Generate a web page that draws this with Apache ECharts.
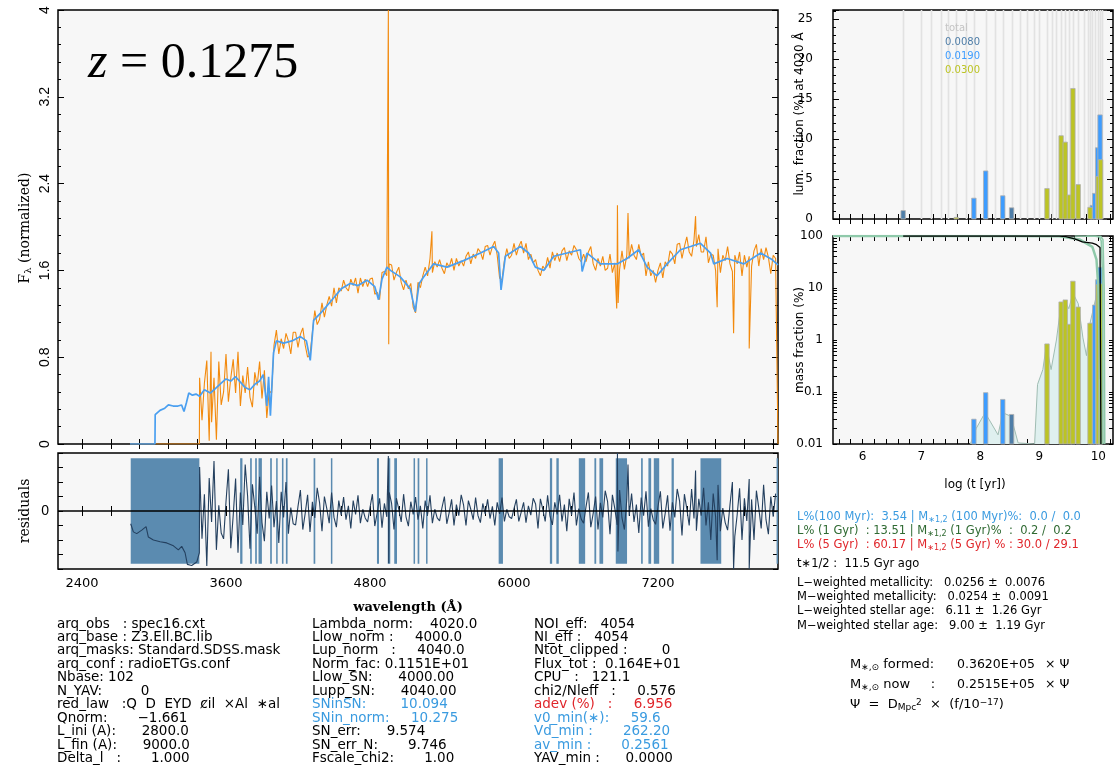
<!DOCTYPE html>
<html>
<head>
<meta charset="utf-8">
<title>spectral fit z = 0.1275</title>
<script src="https://cdn.jsdelivr.net/npm/echarts@6/dist/echarts.min.js"></script>
<style>
  html, body { margin: 0; padding: 0; background: #fff; }
  #chart { width: 1114px; height: 771px; }
</style>
</head>
<body>
<div id="chart"></div>
<script>
// ---------- spectrum panel (wavelength in Å, flux normalised) ----------
const modelSpec = [
  [2800,0],[3008,0],[3010,0.27],[3050,0.31],[3090,0.33],[3120,0.36],[3160,0.35],[3200,0.35],[3230,0.36],
  [3250,0.30],[3270,0.38],[3290,0.47],[3320,0.45],[3350,0.46],[3380,0.44],[3420,0.50],[3470,0.47],
  [3520,0.52],[3560,0.56],[3600,0.60],[3640,0.58],[3680,0.62],[3720,0.57],[3760,0.52],[3800,0.50],
  [3840,0.55],[3880,0.58],[3910,0.64],[3940,0.35],[3955,0.62],[3970,0.26],[3996,0.84],[4020,0.95],
  [4080,0.93],[4150,0.95],[4220,0.99],[4270,0.95],[4302,0.77],[4330,1.14],[4400,1.22],[4500,1.35],
  [4560,1.43],[4635,1.48],[4700,1.46],[4775,1.51],[4840,1.45],[4871,1.33],[4900,1.52],[4941,1.63],
  [4970,1.60],[5052,1.54],[5136,1.43],[5177,1.22],[5210,1.48],[5247,1.54],[5330,1.66],[5442,1.63],
  [5580,1.69],[5720,1.76],[5831,1.82],[5872,1.76],[5892,1.42],[5928,1.73],[6053,1.82],[6122,1.76],
  [6178,1.63],[6248,1.60],[6331,1.73],[6443,1.76],[6554,1.79],[6568,1.59],[6609,1.76],[6720,1.66],
  [6859,1.66],[6942,1.71],[7039,1.79],[7109,1.63],[7192,1.55],[7276,1.66],[7387,1.79],[7471,1.82],
  [7554,1.85],[7638,1.76],[7665,1.66],[7777,1.71],[7916,1.66],[8055,1.76],[8150,1.70],[8200,1.65]
];

// observed flux, one value every 20 Å from 3380 Å (10 per row = 200 Å)
const obsStart = 3380;
const obsStep = 20;
const obsFlux = [
  0.61,0.22,0.56,0.77,0.03,0.20,0.61,0.04,0.76,0.36,
  0.48,0.83,0.39,0.61,0.78,0.47,0.85,0.35,0.63,0.47,
  0.71,0.43,0.34,0.66,0.54,0.76,0.42,0.68,0.24,0.49,
  0.47,0.91,1.05,0.83,0.97,0.88,1.02,0.95,0.83,1.03,
  1.03,0.89,1.01,1.07,0.91,0.80,0.82,1.03,1.23,1.10,
  1.15,1.30,1.17,1.28,1.36,1.27,1.44,1.30,1.44,1.41,
  1.51,1.44,1.41,1.52,1.46,1.53,1.39,1.53,1.45,1.52,
  1.45,1.52,1.53,1.38,1.40,1.33,1.58,1.59,1.55,1.66,
  1.65,1.51,1.58,1.63,1.49,1.42,1.51,1.43,1.48,1.26,
  1.21,1.49,1.44,1.55,1.63,1.55,1.71,1.58,1.68,1.63,
  1.70,1.62,1.57,1.67,1.63,1.71,1.60,1.71,1.64,1.69,
  1.64,1.73,1.77,1.66,1.75,1.71,1.80,1.77,1.70,1.82,
  1.83,1.74,1.82,1.87,1.74,1.53,1.51,1.69,1.80,1.71,
  1.74,1.85,1.74,1.82,1.87,1.76,1.85,1.70,1.75,1.67,
  1.70,1.60,1.55,1.64,1.61,1.72,1.62,1.77,1.69,1.76,
  1.68,1.78,1.81,1.69,1.78,1.74,1.83,1.79,1.71,1.68,
  1.75,1.68,1.77,1.82,1.66,1.60,1.71,1.64,1.73,1.60,
  1.62,1.75,1.58,1.67,1.73,1.61,1.78,1.61,1.74,1.71,
  1.84,1.74,1.70,1.84,1.73,1.76,1.55,1.68,1.55,1.60,
  1.49,1.60,1.67,1.53,1.68,1.64,1.78,1.75,1.66,1.84,
  1.85,1.71,1.82,1.91,1.77,1.73,1.88,1.82,1.93,1.77,
  1.77,1.91,1.67,1.75,1.74,1.60,1.80,1.58,1.74,1.69,
  1.82,1.66,1.59,1.74,1.66,1.77,1.55,1.74,1.63,1.73,
  1.64,1.78,1.84,1.64,1.80,1.70,1.81,1.72,1.57,1.74,
  1.71
];
const obsExtra = [
  [2800,0],[3378,0],[3475,0.85],[4950,1.55],[4953,4.0],[4956,0.92],[4959,1.6],
  [5316,1.96],[6856,1.25],[6862,2.2],[6868,1.3],[6950,2.13],[7513,2.1],[7693,1.26],
  [7830,1.02],[7960,0.88],[8200,0]
];

// residuals, masked start then same 20 Å sampling
const resMasked = [
  [2806,-0.22],[2828,-0.36],[2856,-0.39],[2898,-0.33],[2934,-0.27],[2953,-0.45],[2995,-0.50],
  [3051,-0.53],[3106,-0.55],[3162,-0.60],[3203,-0.67],[3231,-0.61],[3259,-0.72],[3278,-0.92],
  [3314,-0.94],[3356,-0.88],[3378,-0.72]
];
const resVals = [
  0.76,-0.48,0.29,-0.95,0.57,-0.19,0.86,-0.67,0.10,-0.38,
  -0.48,0.16,0.72,-0.64,-0.08,0.56,-0.72,0.32,-0.24,0.80,
  0.26,-0.65,0.46,0.07,-0.39,0.59,-0.20,-0.52,0.33,-0.13,
  0.44,-0.28,0.17,-0.55,0.33,-0.11,0.50,-0.39,0.06,-0.22,
  -0.24,0.08,0.36,-0.32,-0.04,0.28,-0.36,0.16,-0.12,0.40,
  0.14,-0.35,0.25,0.04,-0.21,0.32,-0.11,-0.28,0.18,-0.07,
  0.24,-0.15,0.09,-0.30,0.18,-0.06,0.27,-0.21,0.03,-0.12,
  -0.19,0.06,0.29,-0.26,-0.03,0.22,-0.29,0.13,-0.10,0.32,
  0.13,-0.32,0.22,0.03,-0.19,0.29,-0.10,-0.26,0.16,-0.06,
  0.24,-0.15,0.09,-0.30,0.18,-0.06,0.27,-0.21,0.03,-0.12,
  -0.17,0.06,0.25,-0.22,-0.03,0.20,-0.25,0.11,-0.08,0.28,
  0.10,-0.25,0.18,0.03,-0.15,0.23,-0.08,-0.20,0.13,-0.05,
  0.20,-0.13,0.08,-0.25,0.15,-0.05,0.23,-0.18,0.03,-0.10,
  -0.13,0.04,0.20,-0.18,-0.02,0.15,-0.20,0.09,-0.07,0.22,
  0.12,-0.30,0.21,0.03,-0.18,0.27,-0.09,-0.24,0.15,-0.06,
  0.28,-0.18,0.11,-0.35,0.21,-0.07,0.32,-0.25,0.04,-0.14,
  -0.21,0.07,0.32,-0.28,-0.04,0.25,-0.32,0.14,-0.11,0.35,
  0.16,-0.40,0.28,0.04,-0.24,0.36,-0.12,-0.32,0.20,-0.08,
  0.30,-0.19,0.11,-0.38,0.23,-0.08,0.34,-0.27,0.04,-0.15,
  -0.23,0.08,0.34,-0.30,-0.04,0.27,-0.34,0.15,-0.11,0.38,
  0.17,-0.42,0.29,0.04,-0.25,0.38,-0.13,-0.34,0.21,-0.08,
  0.40,-0.25,0.15,-0.50,0.30,-0.10,0.45,-0.35,0.05,-0.20,
  -0.33,0.11,0.50,-0.44,-0.06,0.39,-0.50,0.22,-0.17,0.55,
  0.20,-0.50,0.35,0.05,-0.30,0.45,-0.15,-0.40,0.25,-0.10,
  0.30
];
const resExtra = [
  [4953,0.95],[4956,-0.9],[6862,1.0],[6866,-0.7],[6950,0.8],[7513,0.7],[7693,-0.85],
  [7830,-1.0],[7960,-1.0]
];

// masked wavelength windows [from, to]
const masks = [
  [2806,3378],[3718,3737],[3801,3815],[3843,3857],[3871,3899],[3968,3982],[4018,4029],
  [4066,4079],[4099,4113],[4330,4344],[4474,4483],[4858,4875],[4948,4969],[5002,5025],
  [5163,5172],[5197,5211],[5267,5275],[5872,5908],[6299,6318],[6353,6373],[6540,6593],
  [6670,6685],[6712,6743],[6848,6942],[7059,7073],[7120,7143],[7165,7210],[7313,7332],
  [7554,7727],[8188,8200]
];

const waveTicks = [2400,2640,2880,3120,3360,3600,3840,4080,4320,4560,4800,5040,5280,5520,
  5760,6000,6240,6480,6720,6960,7200,7440,7680,7920,8160];
const waveLabels = [2400,3600,4800,6000,7200];

// ---------- population panels (log age) ----------
const baseAges = [6.69,6.99,7.17,7.34,7.45,7.59,7.76,7.89,8.09,8.24,8.38,8.53,8.68,8.79,8.91,
  9.0,9.13,9.22,9.29,9.37,9.44,9.51,9.57,9.66,9.75,9.82,9.86,9.90,9.94,9.99,10.03,10.07];

const lumZ008 = [[6.69,1.05],[8.53,1.4]];
const lumZ019 = [[7.89,2.6],[8.09,6.0],[8.38,2.9],[9.90,1.7],[9.94,3.2],[9.99,8.9],[10.03,13.0]];
const lumZ030 = [[7.59,0.2],[9.13,3.8],[9.37,10.4],[9.44,9.6],[9.51,3.0],[9.57,16.3],[9.66,4.3],
  [9.86,1.45],[10.0,5.3],[10.04,7.4]];

const massZ008 = [[8.53,0.037]];
const massZ019 = [[7.89,0.030],[8.09,0.097],[8.38,0.072],[9.90,2.1],[9.94,4.7],[9.99,14.4],[10.03,25]];
const massZ030 = [[9.13,0.84],[9.37,5.4],[9.44,5.9],[9.51,2.0],[9.57,13.5],[9.66,4.3],[9.86,2.1],
  [10.0,11.6],[10.04,12]];

const massSmooth = [[7.83,0.01],[7.93,0.02],[8.08,0.04],[8.30,0.015],[8.38,0.04],[8.52,0.034],
  [8.64,0.0105],[8.92,0.01],[8.97,0.14],[9.06,0.27],[9.12,0.8],[9.2,0.27],[9.29,1.0],[9.37,5.0],
  [9.44,5.5],[9.5,4.0],[9.57,8.0],[9.66,5.0],[9.74,1.1],[9.8,0.5],[9.86,2.1],[9.96,6.5],
  [10.0,15],[10.04,22],[10.07,0.01]];

const cumLight = [[5.5,100],[8.5,99.5],[9.34,99],[9.68,86],[9.9,62],[9.97,35],[10.0,10.6],[10.03,0.57],[10.04,0.01]];
const cumGreenB = [[9.6,100],[9.95,99],[10.02,96],[10.05,80],[10.07,20],[10.08,0.01]];
const cumGreenC = [[9.8,100],[10.04,99],[10.08,85],[10.1,10],[10.11,0.01]];
const cumMass = [[6.69,100],[9.34,100],[9.45,97],[9.6,88],[9.73,77],[9.9,73],[9.97,68],[10.03,60],[10.045,0.01]];

const ageTicks = [5.6,5.8,6.0,6.2,6.4,6.6,6.8,7.0,7.2,7.4,7.6,7.8,8.0,8.2,8.4,8.6,8.8,9.0,9.2,9.4,9.6,9.8,10.0,10.2];
const ageLabels = [6,7,8,9,10];
const logTicks = [0.01,0.02,0.03,0.04,0.05,0.06,0.07,0.08,0.09,0.1,0.2,0.3,0.4,0.5,0.6,0.7,0.8,0.9,
  1,2,3,4,5,6,7,8,9,10,20,30,40,50,60,70,80,90,100];
const logLabels = [0.01,0.1,1,10,100];

// ---------- text blocks ----------
const blockLeft = [
  'arq_obs   : spec16.cxt', 'arq_base : Z3.Ell.BC.lib', 'arq_masks: Standard.SDSS.mask',
  'arq_conf : radioETGs.conf', 'Nbase: 102', 'N_YAV:         0', 'red_law   :Q  D  EYD  ȼil  ×Al  ∗al',
  'Qnorm:       −1.661', 'L_ini (A):      2800.0', 'L_fin (A):      9000.0', 'Delta_l   :       1.000'
];
const blockMid = [
  ['Lambda_norm:    4020.0', '#000'], ['Llow_norm :     4000.0', '#000'], ['Lup_norm   :     4040.0', '#000'],
  ['Norm_fac: 0.1151E+01', '#000'], ['Llow_SN:      4000.00', '#000'], ['Lupp_SN:      4040.00', '#000'],
  ['SNinSN:        10.094', '#3a9be0'], ['SNin_norm:     10.275', '#3a9be0'], ['SN_err:      9.574', '#000'],
  ['SN_err_N:       9.746', '#000'], ['Fscale_chi2:       1.00', '#000']
];
const blockRight = [
  ['NOI_eff:   4054', '#000'], ['NI_eff :   4054', '#000'], ['Ntot_clipped :        0', '#000'],
  ['Flux_tot :  0.164E+01', '#000'], ['CPU   :   121.1', '#000'], ['chi2/Nleff   :     0.576', '#000'],
  ['adev (%)   :     6.956', '#e0262b'], ['v0_min(∗):     59.6', '#3a9be0'], ['Vd_min :       262.20', '#3a9be0'],
  ['av_min :       0.2561', '#3a9be0'], ['YAV_min :      0.0000', '#000']
];
const infoLines = [
  [517, '#3a9be0', '{n|L%(100 Myr):  3.54 | M}{s|∗1,2}{n| (100 Myr)%:  0.0 /  0.0}'],
  [531, '#2f6a32', '{n|L% (1 Gyr)  : 13.51 | M}{s|∗1,2}{n| (1 Gyr)%  :  0.2 /  0.2}'],
  [545, '#e0262b', '{n|L% (5 Gyr)  : 60.17 | M}{s|∗1,2}{n| (5 Gyr) % : 30.0 / 29.1}'],
  [564, '#000', '{n|t∗1/2 :  11.5 Gyr ago}'],
  [583, '#000', '{n|L−weighted metallicity:   0.0256 ±  0.0076}'],
  [597, '#000', '{n|M−weighted metallicity:   0.0254 ±  0.0091}'],
  [611, '#000', '{n|L−weighted stellar age:   6.11 ±  1.26 Gyr}'],
  [626, '#000', '{n|M−weighted stellar age:   9.00 ±  1.19 Gyr}']
];
// stellar mass block: [y, label (rich), value, factor]
const massLines = [
  [665, '{n|M}{s|∗,⊙}{n| formed:}', '0.3620E+05', '× Ψ'],
  [685, '{n|M}{s|∗,⊙}{n| now     :}', '0.2515E+05', '× Ψ']
];
const psiLine = '{n|Ψ  =  D}{s|Mpc}{p|2}{n|  ×  (f/10}{p|−17}{n|)}';
const zLegend = [['total', '#c4c4c4'], ['0.0080', '#4f7ea8'], ['0.0190', '#3d9cff'], ['0.0300', '#bcc424']];

// ---------- build ----------
const obsAll = obsFlux.map((f, i) => [obsStart + i * obsStep, f]).concat(obsExtra)
  .sort((a, b) => a[0] - b[0]);
const resAll = resMasked.concat(resVals.map((r, i) => [obsStart + i * obsStep, r]), resExtra)
  .sort((a, b) => a[0] - b[0]);

const SANS = 'DejaVu Sans';

function xAx(grid, min, max, pos, ticks, labels, size, margin) {
  return {
    type: 'value', gridIndex: grid, min: min, max: max, position: pos,
    axisLine: { show: false }, splitLine: { show: false },
    axisTick: { show: true, inside: true, length: 5, customValues: ticks, lineStyle: { color: '#000' } },
    axisLabel: labels
      ? { show: true, customValues: labels, color: '#000', fontFamily: SANS, fontSize: size, margin: margin,
          formatter: v => String(v) }
      : { show: false }
  };
}

function mirrorY(base) {
  const c = Object.assign({}, base);
  c.position = 'right';
  c.axisLabel = { show: false };
  return c;
}

const yMain = {
  type: 'value', gridIndex: 0, min: 0, max: 4, interval: 0.8, position: 'left',
  axisLine: { show: false }, splitLine: { show: false },
  axisTick: { show: true, inside: true, length: 6, lineStyle: { color: '#000' } },
  minorTick: { show: true, splitNumber: 5, length: 3, lineStyle: { color: '#000' } },
  axisLabel: { rotate: 90, margin: 6, color: '#000', fontFamily: 'Liberation Sans', fontSize: 14,
    formatter: v => String(+v.toFixed(1)) }
};
const yRes = {
  type: 'value', gridIndex: 1, min: -1, max: 1, interval: 0.25, position: 'left',
  axisLine: { show: false }, splitLine: { show: false },
  axisTick: { show: true, inside: true, length: 5, lineStyle: { color: '#000' } },
  axisLabel: { customValues: [0], margin: 9, color: '#000', fontFamily: 'Liberation Sans', fontSize: 14 }
};
const yLum = {
  type: 'value', gridIndex: 2, min: 0, max: 26.1, interval: 5, position: 'left',
  axisLine: { show: false }, splitLine: { show: false },
  axisTick: { show: true, inside: true, length: 6, lineStyle: { color: '#000' } },
  minorTick: { show: true, splitNumber: 5, length: 3, lineStyle: { color: '#000' } },
  axisLabel: { margin: 20, color: '#000', fontFamily: SANS, fontSize: 12,
    formatter: v => (v % 5 === 0 ? String(v) : '') }
};
const yMass = {
  type: 'log', logBase: 10, gridIndex: 3, min: 0.01, max: 100, position: 'left',
  axisLine: { show: false }, splitLine: { show: false },
  axisTick: { show: true, inside: true, length: 4, customValues: logTicks, lineStyle: { color: '#000' } },
  axisLabel: { customValues: logLabels, margin: 10, color: '#000', fontFamily: SANS, fontSize: 12,
    formatter: v => String(+(+v).toPrecision(3)) }
};

const gridBox = { show: true, backgroundColor: '#f7f7f7', borderColor: '#000', borderWidth: 1.5 };

function barSeries(data, color, xi, yi, base) {
  return {
    type: 'custom', xAxisIndex: xi, yAxisIndex: yi, data: data, z: 3,
    renderItem: function (params, api) {
      const top = api.coord([api.value(0), api.value(1)]);
      const bot = api.coord([api.value(0), base]);
      return {
        type: 'rect',
        shape: { x: top[0] - 2.2, y: top[1], width: 4.4, height: bot[1] - top[1] },
        style: { fill: color, stroke: '#b0b0b0', lineWidth: 0.8 }
      };
    }
  };
}

function lineSeries(data, color, width, xi, yi, z) {
  return {
    type: 'line', xAxisIndex: xi, yAxisIndex: yi, data: data, showSymbol: false, symbol: 'none',
    lineStyle: { color: color, width: width }, z: z || 2, silent: true
  };
}

const series = [
  lineSeries(obsAll, '#f28a0e', 1.1, 0, 0, 2),
  lineSeries(modelSpec, '#4a9ff0', 1.7, 0, 0, 3),
  {
    type: 'custom', xAxisIndex: 2, yAxisIndex: 2, data: masks, z: 1,
    renderItem: function (params, api) {
      const a = api.coord([api.value(0), 0.91]);
      const b = api.coord([api.value(1), -0.91]);
      return { type: 'rect', shape: { x: a[0], y: a[1], width: Math.max(b[0] - a[0], 1.5), height: b[1] - a[1] },
        style: { fill: '#5b8bb0' } };
    }
  },
  Object.assign(lineSeries(resAll, '#24405f', 1.1, 2, 2, 3), {
    markLine: { silent: true, symbol: 'none', label: { show: false },
      lineStyle: { color: '#000', width: 1.5, type: 'solid' }, data: [{ yAxis: 0 }] }
  }),
  {
    type: 'custom', xAxisIndex: 4, yAxisIndex: 4, data: baseAges.map(a => [a, 26.1]), z: 1,
    renderItem: function (params, api) {
      const a = api.coord([api.value(0), 0]);
      const b = api.coord([api.value(0), api.value(1)]);
      const x = Math.round(a[0]) + 0.5;
      return { type: 'line', shape: { x1: x, y1: a[1], x2: x, y2: b[1] },
        style: { stroke: '#e2e2e2', lineWidth: 1.6 } };
    }
  },
  barSeries(lumZ008, '#4f7ea8', 4, 4, 0),
  barSeries(lumZ019, '#3d9cff', 4, 4, 0),
  barSeries(lumZ030, '#bcc424', 4, 4, 0),
  {
    type: 'line', xAxisIndex: 6, yAxisIndex: 6, data: massSmooth, showSymbol: false, symbol: 'none',
    lineStyle: { color: '#9fbcb2', width: 1 }, areaStyle: { color: '#dff0ef', opacity: 1, origin: 'start' }, z: 1
  },
  barSeries(massZ008, '#4f7ea8', 6, 6, 0.01),
  barSeries(massZ019, '#3d9cff', 6, 6, 0.01),
  barSeries(massZ030, '#bcc424', 6, 6, 0.01),
  lineSeries(cumLight, '#8fc9aa', 2.5, 6, 6, 4),
  lineSeries(cumGreenB, '#8fc9aa', 1.6, 6, 6, 4),
  lineSeries(cumGreenC, '#8fc9aa', 1.6, 6, 6, 4),
  lineSeries(cumMass, '#000', 1.3, 6, 6, 5)
];

// text
const graphic = [];
function txt(x, y, text, font, fill, extra) {
  graphic.push({
    type: 'text', x: x, y: y, z: 50, silent: true,
    style: Object.assign({ text: text, font: font, fill: fill, align: 'left', verticalAlign: 'middle',
      textAlign: 'left', textVerticalAlign: 'middle' }, extra || {})
  });
}
function richStyle(color, size) {
  return {
    n: { fontFamily: SANS, fontSize: size, lineHeight: 14, fill: color },
    s: { fontFamily: SANS, fontSize: Math.round(size * 0.72), lineHeight: 4, verticalAlign: 'bottom', fill: color },
    p: { fontFamily: SANS, fontSize: Math.round(size * 0.72), lineHeight: 4, verticalAlign: 'top', fill: color }
  };
}
function richTxt(x, y, text, color, size) {
  graphic.push({
    type: 'text', x: x, y: y, z: 50, silent: true,
    style: { text: text, verticalAlign: 'middle', textVerticalAlign: 'middle', rich: richStyle(color, size) }
  });
}

graphic.push({
  type: 'text', x: 88, y: 64, z: 50, silent: true,
  style: {
    text: '{i|z}{n| = 0.1275}', verticalAlign: 'middle', textVerticalAlign: 'middle',
    rich: {
      i: { fontFamily: 'Liberation Serif', fontStyle: 'italic', fontSize: 50, fill: '#000' },
      n: { fontFamily: 'Liberation Serif', fontSize: 50, fill: '#000' }
    }
  }
});
graphic.push({
  type: 'text', x: 25, y: 228, rotation: Math.PI / 2, z: 50, silent: true,
  style: {
    text: '{a|F}{s|λ}{a| (normalized)}', align: 'center', verticalAlign: 'middle',
    textAlign: 'center', textVerticalAlign: 'middle',
    rich: {
      a: { fontFamily: 'DejaVu Serif', fontSize: 14, lineHeight: 16, fill: '#000' },
      s: { fontFamily: 'DejaVu Serif', fontSize: 10, lineHeight: 4, verticalAlign: 'bottom', fill: '#000' }
    }
  }
});
[[25, 511, 'residuals', '14px "DejaVu Serif"'],
 [800, 114, 'lum. fraction (%) at 4020 Å', '12px "DejaVu Sans"'],
 [800, 340, 'mass fraction (%)', '12px "DejaVu Sans"']].forEach(r => graphic.push({
  type: 'text', x: r[0], y: r[1], rotation: Math.PI / 2, z: 50, silent: true,
  style: { text: r[2], font: r[3], fill: '#000', align: 'center', verticalAlign: 'middle',
    textAlign: 'center', textVerticalAlign: 'middle' }
}));
txt(975, 485, 'log (t [yr])', '12px "DejaVu Sans"', '#000', { align: 'center', textAlign: 'center' });
txt(408, 608, 'wavelength (Å)', 'bold 13px "DejaVu Serif"', '#000', { align: 'center', textAlign: 'center' });

zLegend.forEach((z, i) => txt(945, 28 + i * 14.2, z[0], '10px "DejaVu Sans"', z[1]));

blockLeft.forEach((t, i) => txt(57, 624 + i * 13.45, t, '13.5px "DejaVu Sans"', '#000'));
blockMid.forEach((t, i) => txt(312, 624 + i * 13.45, t[0], '13.5px "DejaVu Sans"', t[1]));
blockRight.forEach((t, i) => txt(534, 624 + i * 13.45, t[0], '13.5px "DejaVu Sans"', t[1]));

infoLines.forEach(l => richTxt(797, l[0], l[2], l[1], 11.5));
massLines.forEach(l => {
  richTxt(850, l[0], l[1], '#000', 13);
  txt(957, l[0], l[2], '12.5px "DejaVu Sans"', '#000');
  txt(1045, l[0], l[3], '12.5px "DejaVu Sans"', '#000');
});
richTxt(850, 705, psiLine, '#000', 13);

const option = {
  animation: false,
  backgroundColor: '#fff',
  grid: [
    Object.assign({ left: 58, top: 10, width: 720, height: 434 }, gridBox),
    Object.assign({ left: 58, top: 453, width: 720, height: 116 }, gridBox),
    Object.assign({ left: 833, top: 10, width: 280, height: 209 }, gridBox),
    Object.assign({ left: 833, top: 236, width: 280, height: 208 }, gridBox)
  ],
  xAxis: [
    xAx(0, 2200, 8200, 'bottom', waveTicks, null),
    xAx(0, 2200, 8200, 'top', waveTicks, null),
    xAx(1, 2200, 8200, 'bottom', waveTicks, waveLabels, 13, 8),
    xAx(1, 2200, 8200, 'top', waveTicks, null),
    xAx(2, 5.5, 10.25, 'bottom', ageTicks, null),
    xAx(2, 5.5, 10.25, 'top', ageTicks, null),
    xAx(3, 5.5, 10.25, 'bottom', ageTicks, ageLabels, 12, 7),
    xAx(3, 5.5, 10.25, 'top', ageTicks, null)
  ],
  yAxis: [yMain, mirrorY(yMain), yRes, mirrorY(yRes), yLum, mirrorY(yLum), yMass, mirrorY(yMass)],
  series: series,
  graphic: graphic
};

const chart = echarts.init(document.getElementById('chart'));
chart.setOption(option);
</script>
</body>
</html>
